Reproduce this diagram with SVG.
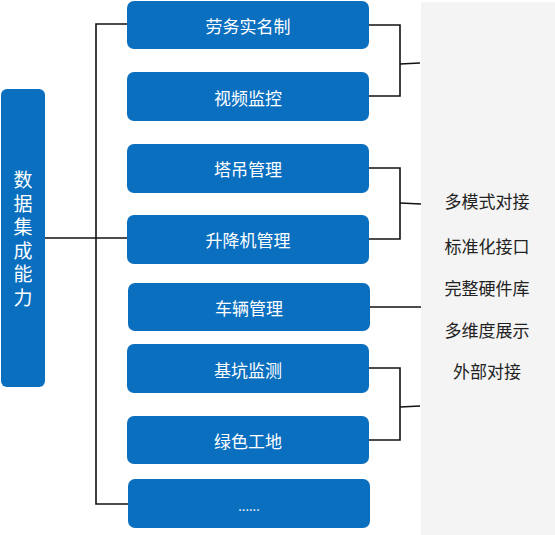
<svg xmlns="http://www.w3.org/2000/svg" width="555" height="535" viewBox="0 0 555 535">
<style>
.node{fill:#0B6FC0;}
.lbl{font-family:"Noto Sans CJK SC","Noto Sans",sans-serif;font-size:17px;fill:#ffffff;text-anchor:middle;dominant-baseline:central;}
.vert{font-family:"Noto Sans CJK SC","Noto Sans",sans-serif;font-size:19px;fill:#ffffff;writing-mode:vertical-rl;text-anchor:start;letter-spacing:4.5px;}
.dots{font-size:13px;}
.side{font-family:"Noto Sans CJK SC","Noto Sans",sans-serif;font-size:17px;fill:#222222;text-anchor:middle;dominant-baseline:central;}
.ln{fill:none;stroke:#111111;stroke-width:1.6;}
</style>
<rect width="555" height="535" fill="#ffffff"/>
<rect id="panel" x="421" y="2" width="134" height="533" fill="#F4F4F4"/>
<g id="connectors">
<polyline class="ln" points="127,24 96,24 96,504 128,504"/>
<line class="ln" x1="45" y1="238" x2="127" y2="238"/>
<polyline class="ln" points="369,25 400,25 400,96 369,96"/>
<line class="ln" x1="400" y1="64" x2="420" y2="63"/>
<polyline class="ln" points="369,168 400,168 400,239 369,239"/>
<line class="ln" x1="400" y1="203" x2="421" y2="204"/>
<line class="ln" x1="370" y1="307" x2="421" y2="307"/>
<polyline class="ln" points="369,368 400,368 400,440 369,440"/>
<line class="ln" x1="400" y1="407" x2="420" y2="406"/>
</g>
<g id="root">
<rect class="node" x="1" y="89" width="44" height="298" rx="6"/>
<text class="vert" x="23" y="170.5">数据集成能力</text>
</g>
<g id="n1"><rect class="node" x="127" y="1" width="242" height="48" rx="7"/><text class="lbl" x="248" y="25">劳务实名制</text></g>
<g id="n2"><rect class="node" x="127" y="72" width="242" height="49" rx="7"/><text class="lbl" x="248" y="97">视频监控</text></g>
<g id="n3"><rect class="node" x="127" y="144" width="242" height="49" rx="7"/><text class="lbl" x="248" y="168">塔吊管理</text></g>
<g id="n4"><rect class="node" x="127" y="215" width="242" height="49" rx="7"/><text class="lbl" x="248" y="239">升降机管理</text></g>
<g id="n5"><rect class="node" x="128" y="283" width="242" height="48" rx="7"/><text class="lbl" x="249" y="307">车辆管理</text></g>
<g id="n6"><rect class="node" x="127" y="344" width="242" height="49" rx="7"/><text class="lbl" x="248" y="369">基坑监测</text></g>
<g id="n7"><rect class="node" x="127" y="416" width="242" height="48" rx="7"/><text class="lbl" x="248" y="440">绿色工地</text></g>
<g id="n8"><rect class="node" x="128" y="479" width="242" height="49" rx="7"/><text class="lbl dots" x="249" y="505">......</text></g>
<g id="features">
<text class="side" x="487" y="200">多模式对接</text>
<text class="side" x="487" y="245">标准化接口</text>
<text class="side" x="487" y="287">完整硬件库</text>
<text class="side" x="487" y="329">多维度展示</text>
<text class="side" x="487" y="370">外部对接</text>
</g>
</svg>
